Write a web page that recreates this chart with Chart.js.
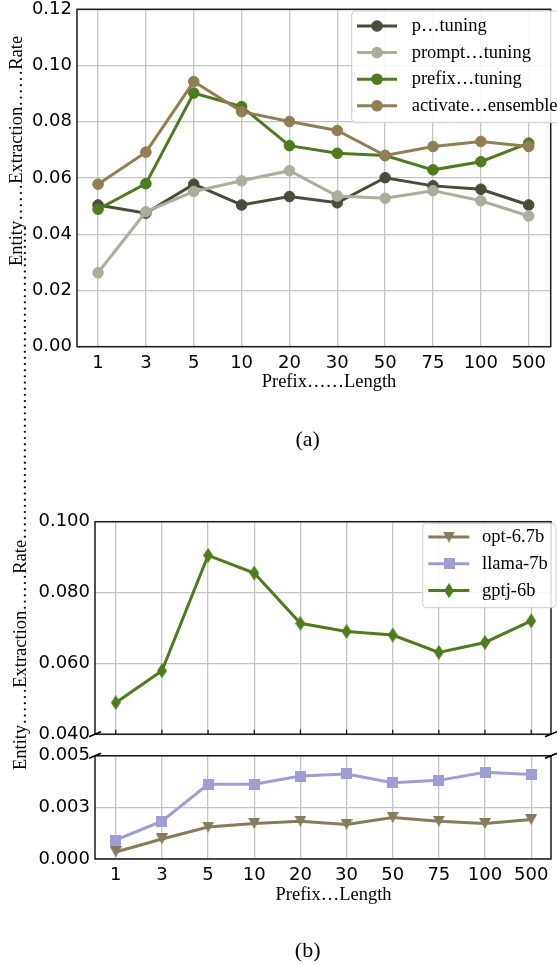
<!DOCTYPE html>
<html>
<head>
<meta charset="utf-8">
<script src="https://cdn.jsdelivr.net/npm/chart.js@4.4.1/dist/chart.umd.min.js"></script>
<style>
html,body{margin:0;padding:0;background:#fff;}
body{width:557px;height:965px;position:relative;overflow:hidden;}
canvas{position:absolute;left:0;}
.t{position:absolute;font-family:'Liberation Serif','Times New Roman',serif;font-size:18.5px;line-height:18.5px;white-space:nowrap;color:#000;}
.rot{transform:rotate(-90deg);transform-origin:0 0;}
</style>
</head>
<body>
<canvas id="ca" width="557" height="420" style="top:-20px"></canvas>
<canvas id="cb1" width="557" height="270" style="top:480px"></canvas>
<canvas id="cb2" width="557" height="225" style="top:740px"></canvas>
<div class="t rot" id="ylabA" style="left:6.5px;top:266px"></div>
<div class="t rot" id="ylabB" style="left:10.5px;top:770px"></div>
<div class="t" id="xlabA" style="left:261.7px;top:371.5px"></div>
<div class="t" id="xlabB" style="left:275.5px;top:884.5px"></div>
<div class="t" id="capA" style="left:257.7px;top:428.3px;width:100px;text-align:center;font-size:22px;line-height:22px"></div>
<div class="t" id="capB" style="left:257.7px;top:938.5px;width:100px;text-align:center;font-size:22px;line-height:22px"></div>
<script>
// ---------- data ----------
const categories = ["1","3","5","10","20","30","50","75","100","500"];

const pTuning          = [0.0504,0.0475,0.0578,0.0504,0.0534,0.0512,0.0601,0.0572,0.0560,0.0504];
const promptTuning     = [0.0263,0.0480,0.0552,0.0590,0.0626,0.0536,0.0528,0.0555,0.0519,0.0465];
const prefixTuning     = [0.0489,0.0580,0.0902,0.0854,0.0715,0.0688,0.0680,0.0629,0.0658,0.0724];
const activateEnsemble = [0.0578,0.0692,0.0943,0.0836,0.0801,0.0769,0.0680,0.0712,0.0730,0.0712];

const opt67b  = [0.00034,0.00097,0.00155,0.00172,0.00183,0.00167,0.00201,0.00183,0.00172,0.00191];
const llama7b = [0.00092,0.00183,0.00362,0.00362,0.00402,0.00412,0.00370,0.00381,0.00420,0.00409];
const gptj6b  = [0.0489,0.0579,0.0905,0.0855,0.0713,0.0690,0.0680,0.0631,0.0659,0.0720];

const yTicksA = [0,0.02,0.04,0.06,0.08,0.10,0.12];
const yTickLabelsA = ["0.00","0.02","0.04","0.06","0.08","0.10","0.12"];
const yTicksBTop = [0.04,0.06,0.08,0.10];
const yTickLabelsBTop = ["0.040","0.060","0.080","0.100"];
const yTicksBBottom = [0,0.0025,0.005];
const yTickLabelsBBottom = ["0.000","0.003","0.005"];

const seriesNamesA = ["p…tuning","prompt…tuning","prefix…tuning","activate…ensemble"];
const seriesNamesB = ["opt-6.7b","llama-7b","gptj-6b"];

// ---------- texts ----------
document.getElementById('ylabA').textContent = "Entity……Extraction……Rate";
document.getElementById('ylabB').textContent = "Entity……Extraction……Rate" + "…".repeat(17);
document.getElementById('xlabA').textContent = "Prefix……Length";
document.getElementById('xlabB').textContent = "Prefix…Length";
document.getElementById('capA').textContent = "(a)";
document.getElementById('capB').textContent = "(b)";

// ---------- styles ----------
const C_P = '#474C3B', C_PROMPT = '#A9AF9D', C_PREFIX = '#4F7B1E', C_ACT = '#8F7F52';
const C_OPT = '#857C5C', C_LLAMA = '#9E9ED4', C_GPTJ = '#4F7B1E';

function shapeImg(w, h, color, pathFn){
  const c = document.createElement('canvas'); c.width = w; c.height = h;
  const g = c.getContext('2d'); g.fillStyle = color; g.beginPath(); pathFn(g, w, h); g.closePath(); g.fill();
  return c;
}
const triDown = shapeImg(12, 11, C_OPT, (g,w,h)=>{ g.moveTo(0,0); g.lineTo(w,0); g.lineTo(w/2,h); });
const square  = shapeImg(11, 11, C_LLAMA, (g,w,h)=>{ g.rect(0,0,w,h); });
const diamond = shapeImg(10, 15, C_GPTJ, (g,w,h)=>{ g.moveTo(w/2,0); g.lineTo(w,h/2); g.lineTo(w/2,h); g.lineTo(0,h/2); });

const FONT_TICK = {family:"'DejaVu Sans', sans-serif", size:18};
const GRID = {color:'#c4c4c4', lineWidth:1.3, drawTicks:false};

function toPts(arr){ return arr.map((v,i)=>({x:i, y:v})); }

function xScale(min, max, height, showLabels){
  return {type:'linear', min:min, max:max,
    afterBuildTicks: s => { s.ticks = categories.map((c,i)=>({value:i})); },
    afterFit: s => { s.height = height; },
    ticks:{display:showLabels, autoSkip:false, maxRotation:0, minRotation:0, padding:6, color:'#000', font:FONT_TICK,
           callback:(v,i)=>categories[i]},
    grid:GRID, border:{display:false}};
}
function yScale(min, max, vals, labels, width){
  return {type:'linear', min:min, max:max,
    afterBuildTicks: s => { s.ticks = vals.map(v=>({value:v})); },
    afterFit: s => { s.width = width; },
    ticks:{autoSkip:false, padding:5, color:'#000', font:FONT_TICK, callback:(v,i)=>labels[i]},
    grid:GRID, border:{display:false}};
}

function lineDs(label, data, color, order, style){
  const ds = {label:label, data:toPts(data), borderColor:color, backgroundColor:color, borderWidth:3,
    pointBackgroundColor:color, pointBorderColor:color, tension:0, order:order, fill:false};
  if (style === 'circle'){ ds.pointStyle='circle'; ds.pointRadius=5.3; ds.pointBorderWidth=1; }
  else { ds.pointStyle=style; ds.pointRadius=6; ds.pointBorderWidth=0; }
  return ds;
}

// ---------- plugins ----------
const framePlugin = {id:'frame', afterDatasetsDraw(chart){
  const {ctx, chartArea:a} = chart; ctx.save(); ctx.strokeStyle='#1a1a1a'; ctx.lineWidth=1.5;
  ctx.strokeRect(a.left, a.top, a.right-a.left, a.bottom-a.top); ctx.restore(); }};

const breakPlugin = {id:'breakMarks', afterDraw(chart, args, o){
  if (!o || !o.edge) return;
  const {ctx, chartArea:a} = chart; const y = o.edge==='bottom' ? a.bottom : a.top;
  ctx.save(); ctx.strokeStyle='#000'; ctx.lineWidth=1.6;
  [a.left, a.right].forEach(x=>{ ctx.beginPath(); ctx.moveTo(x-6, y+2.5); ctx.lineTo(x+6, y-2.5); ctx.stroke(); });
  ctx.restore(); }};

const inTickPlugin = {id:'inTicks', afterDatasetsDraw(chart, args, o){
  if (!o || !o.show) return;
  const {ctx, chartArea:a, scales} = chart; const x = scales.x;
  ctx.save(); ctx.strokeStyle='#111'; ctx.lineWidth=1.2;
  x.ticks.forEach((t,i)=>{ const px = x.getPixelForTick(i); ctx.beginPath(); ctx.moveTo(px, a.bottom); ctx.lineTo(px, a.bottom-4.5); ctx.stroke(); });
  ctx.restore(); }};

function roundRect(ctx, x, y, w, h, r){
  ctx.beginPath(); ctx.moveTo(x+r, y); ctx.lineTo(x+w-r, y); ctx.quadraticCurveTo(x+w, y, x+w, y+r);
  ctx.lineTo(x+w, y+h-r); ctx.quadraticCurveTo(x+w, y+h, x+w-r, y+h); ctx.lineTo(x+r, y+h);
  ctx.quadraticCurveTo(x, y+h, x, y+h-r); ctx.lineTo(x, y+r); ctx.quadraticCurveTo(x, y, x+r, y); ctx.closePath();
}
const legendPlugin = {id:'boxLegend', afterDraw(chart, args, o){
  if (!o || !o.items) return;
  const ctx = chart.ctx; const dy = o.dy;
  ctx.save();
  roundRect(ctx, o.box[0], o.box[1]+dy, o.box[2], o.box[3], 4);
  ctx.fillStyle='rgba(255,255,255,0.85)'; ctx.fill(); ctx.strokeStyle='#cccccc'; ctx.lineWidth=1; ctx.stroke();
  o.items.forEach((it, k)=>{
    const y = o.rows[k] + dy;
    ctx.strokeStyle = it.color; ctx.lineWidth = 3; ctx.beginPath(); ctx.moveTo(o.lx1, y); ctx.lineTo(o.lx2, y); ctx.stroke();
    if (it.style === 'circle'){ ctx.fillStyle = it.color; ctx.beginPath(); ctx.arc(o.mx, y, 5.8, 0, Math.PI*2); ctx.fill(); }
    else { ctx.drawImage(it.style, o.mx - it.style.width/2, y - it.style.height/2); }
    ctx.fillStyle = '#000'; ctx.font = "18.5px 'Liberation Serif', 'Times New Roman', serif";
    ctx.textBaseline = 'alphabetic'; ctx.textAlign = 'left';
    ctx.fillText(it.label, o.tx, y + 5);
  });
  ctx.restore(); }};

const baseOpts = {responsive:false, animation:false, events:[], devicePixelRatio:1};

// ---------- chart (a) ----------
new Chart(document.getElementById('ca'), {
  type:'line',
  data:{datasets:[
    lineDs(seriesNamesA[0], pTuning, C_P, 10, 'circle'),
    lineDs(seriesNamesA[1], promptTuning, C_PROMPT, 9, 'circle'),
    lineDs(seriesNamesA[2], prefixTuning, C_PREFIX, 8, 'circle'),
    lineDs(seriesNamesA[3], activateEnsemble, C_ACT, 7, 'circle')
  ]},
  options:Object.assign({}, baseOpts, {
    layout:{padding:{top:29.3, right:2, left:0, bottom:0}},
    scales:{ x:xScale(-0.44, 9.46, 53.3, true), y:yScale(0, 0.12, yTicksA, yTickLabelsA, 77) },
    plugins:{legend:{display:false}, tooltip:{enabled:false},
      boxLegend:{dy:20, box:[351.7, 11, 230, 111.7], rows:[26, 52.6, 79.2, 105.8], lx1:357, lx2:397, mx:377, tx:411.7,
        items:[{label:seriesNamesA[0], color:C_P, style:'circle'},{label:seriesNamesA[1], color:C_PROMPT, style:'circle'},
               {label:seriesNamesA[2], color:C_PREFIX, style:'circle'},{label:seriesNamesA[3], color:C_ACT, style:'circle'}]}}
  }),
  plugins:[framePlugin, legendPlugin]
});

// ---------- chart (b) top ----------
new Chart(document.getElementById('cb1'), {
  type:'line',
  data:{datasets:[ lineDs(seriesNamesB[2], gptj6b, C_GPTJ, 1, diamond) ]},
  options:Object.assign({}, baseOpts, {
    layout:{padding:{top:41.7, right:1, left:0, bottom:0}},
    scales:{ x:xScale(-0.45, 9.43, 14.3, false), y:yScale(0.04, 0.10, yTicksBTop, yTickLabelsBTop, 95) },
    plugins:{legend:{display:false}, tooltip:{enabled:false},
      breakMarks:{edge:'bottom'}, inTicks:{show:true},
      boxLegend:{dy:-480, box:[422.7, 523.3, 133.3, 84.4], rows:[537, 563.8, 590.6], lx1:428.3, lx2:469.3, mx:449, tx:482,
        items:[{label:seriesNamesB[0], color:C_OPT, style:triDown},{label:seriesNamesB[1], color:C_LLAMA, style:square},
               {label:seriesNamesB[2], color:C_GPTJ, style:diamond}]}}
  }),
  plugins:[framePlugin, breakPlugin, inTickPlugin, legendPlugin]
});

// ---------- chart (b) bottom ----------
new Chart(document.getElementById('cb2'), {
  type:'line',
  data:{datasets:[
    lineDs(seriesNamesB[0], opt67b, C_OPT, 2, triDown),
    lineDs(seriesNamesB[1], llama7b, C_LLAMA, 1, square)
  ]},
  options:Object.assign({}, baseOpts, {
    layout:{padding:{top:12.3, right:1, left:0, bottom:0}},
    scales:{ x:xScale(-0.45, 9.43, 106, true), y:yScale(0, 0.005, yTicksBBottom, yTickLabelsBBottom, 95) },
    plugins:{legend:{display:false}, tooltip:{enabled:false}, breakMarks:{edge:'top'}}
  }),
  plugins:[framePlugin, breakPlugin]
});
</script>
</body>
</html>
